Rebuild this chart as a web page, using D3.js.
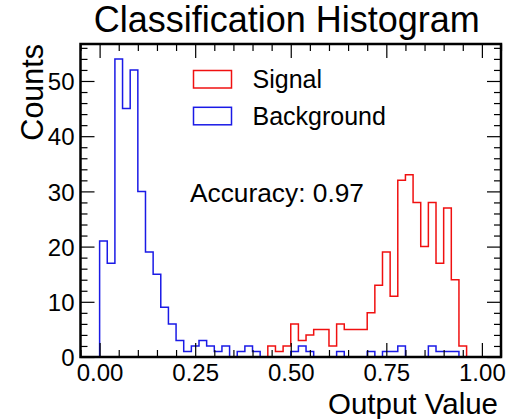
<!DOCTYPE html>
<html>
<head>
<meta charset="utf-8">
<script src="https://cdn.jsdelivr.net/npm/d3@7"></script>
<style>
  body { margin: 0; background: #fff; }
  svg text { font-family: "Liberation Sans", Arial, Helvetica, sans-serif; fill: #000; }
</style>
</head>
<body>
<div id="chart"></div>
<script>
// histogram binning: 50 bins on [0, 1]
const binRange = [0, 1];
const nBins = 50;

// counts per bin
const signalCounts = [
  0, 0, 0, 0, 0, 0, 0, 0, 0, 0,
  0, 0, 0, 0, 0, 0, 0, 0, 0, 0,
  0, 0, 2, 1, 2, 6, 3, 4, 5, 5,
  2, 6, 5, 5, 5, 8, 13, 19, 11, 32,
  33, 28, 20, 28, 17, 27, 14, 2, 0, 0
];
const backgroundCounts = [
  21, 17, 54, 45, 52, 30, 19, 15, 9, 6,
  3, 1, 2, 3, 2, 1, 2, 0, 1, 2,
  1, 0, 0, 0, 0, 1, 2, 1, 0, 0,
  0, 1, 0, 0, 0, 1, 0, 1, 1, 2,
  0, 0, 0, 2, 1, 1, 1, 0, 0, 0
];
const seriesNames = ["Signal", "Background"];
const xTickValues = [0, 0.25, 0.5, 0.75, 1.0];
const yTickValues = [0, 10, 20, 30, 40, 50];
const accuracy = 0.97;

const colors = ["#f01010", "#1a1ae6"];
const width = 506, height = 419;
const plot = { left: 80.5, right: 501, top: 44, bottom: 357 };

const binEdges = d3.range(nBins + 1).map(i => binRange[0] + (binRange[1] - binRange[0]) * i / nBins);
const yMax = d3.max([...signalCounts, ...backgroundCounts]) * 1.05;

const x = d3.scaleLinear().domain([-0.05, 1.05]).range([plot.left, plot.right]);
const y = d3.scaleLinear().domain([0, yMax]).range([plot.bottom, plot.top]);

const svg = d3.select("#chart").append("svg")
  .attr("width", width)
  .attr("height", height);

// step outline like matplotlib histtype="step"
function stepPoints(counts) {
  const pts = [[binEdges[0], 0]];
  counts.forEach((c, i) => {
    pts.push([binEdges[i], c]);
    pts.push([binEdges[i + 1], c]);
  });
  pts.push([binEdges[nBins], 0]);
  return pts;
}
const line = d3.line().x(d => x(d[0])).y(d => y(d[1]));

[signalCounts, backgroundCounts].forEach((counts, i) => {
  svg.append("path")
    .attr("d", line(stepPoints(counts)))
    .attr("fill", "none")
    .attr("stroke", colors[i])
    .attr("stroke-width", 1.5)
    .attr("stroke-linejoin", "miter");
});

// ticks (inward, on all sides)
const xMinor = d3.range(-0.05, 1.0501, 0.05).filter(v => !xTickValues.some(t => Math.abs(t - v) < 1e-6));
const yMinor = d3.range(0, yMax, 2).filter(v => v % 10 !== 0);
const majorLen = 14, minorLen = 7;

function drawAxis(axisFn, scale, major, minor, transform, labels, fmt) {
  const gMinor = svg.append("g").attr("transform", transform)
    .call(axisFn(scale).tickValues(minor).tickSizeInner(-minorLen).tickSizeOuter(0).tickFormat(""));
  const gMajor = svg.append("g").attr("transform", transform)
    .call(axisFn(scale).tickValues(major).tickSizeInner(-majorLen).tickSizeOuter(0)
      .tickPadding(majorLen + 8).tickFormat(labels ? fmt : ""));
  [gMinor, gMajor].forEach(g => {
    g.select(".domain").remove();
    g.selectAll(".tick line").attr("stroke", "#000").attr("stroke-width", 1.2);
  });
  return gMajor;
}

const gx = drawAxis(d3.axisBottom, x, xTickValues, xMinor, `translate(0,${plot.bottom})`, true, d3.format(".2f"));
gx.selectAll(".tick text").attr("font-size", 24).attr("y", 7).attr("dy", "0.71em");
drawAxis(d3.axisTop, x, xTickValues, xMinor, `translate(0,${plot.top})`, false);
const gy = drawAxis(d3.axisLeft, y, yTickValues, yMinor, `translate(${plot.left},0)`, true, d3.format("d"));
gy.selectAll(".tick text").attr("font-size", 24).attr("x", -6).attr("dy", "0.36em");
drawAxis(d3.axisRight, y, yTickValues, yMinor, `translate(${plot.right},0)`, false);

// frame
svg.append("rect")
  .attr("x", plot.left).attr("y", plot.top)
  .attr("width", plot.right - plot.left).attr("height", plot.bottom - plot.top)
  .attr("fill", "none").attr("stroke", "#000").attr("stroke-width", 2.5);

// title and axis labels
svg.append("text")
  .attr("x", (plot.left + plot.right) / 2 - 4).attr("y", 31.5)
  .attr("text-anchor", "middle").attr("font-size", 36)
  .text("Classification Histogram");

svg.append("text")
  .attr("x", plot.right - 3).attr("y", 413.5)
  .attr("text-anchor", "end").attr("font-size", 29.5)
  .text("Output Value");

svg.append("text")
  .attr("transform", `translate(43,${plot.top}) rotate(-90)`)
  .attr("text-anchor", "end").attr("font-size", 30.5)
  .text("Counts");

// legend
const legend = svg.append("g").attr("transform", "translate(193.5,70.5)");
seriesNames.forEach((name, i) => {
  const row = legend.append("g").attr("transform", `translate(0,${i * 36.8})`);
  row.append("rect")
    .attr("width", 38).attr("height", 17.5)
    .attr("fill", "none").attr("stroke", colors[i]).attr("stroke-width", 1.5);
  row.append("text")
    .attr("x", 59).attr("y", 17.8)
    .attr("font-size", 25)
    .text(name);
});

svg.append("text")
  .attr("x", 190).attr("y", 201.5)
  .attr("font-size", 26.3)
  .text("Accuracy: " + accuracy.toFixed(2));
</script>
</body>
</html>
